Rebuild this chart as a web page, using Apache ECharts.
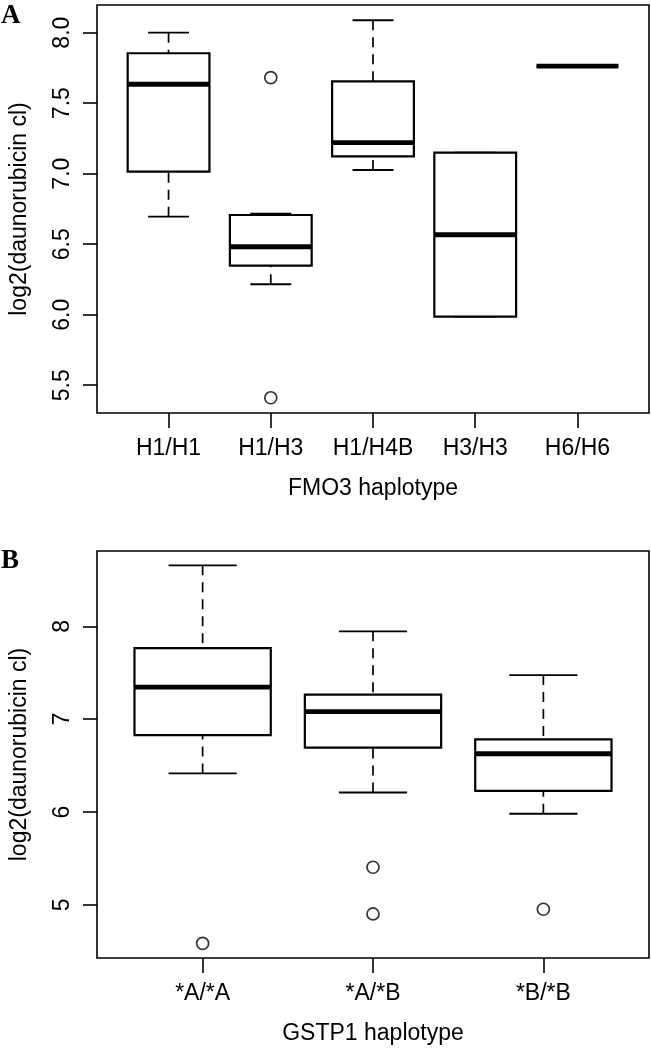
<!DOCTYPE html>
<html>
<head>
<meta charset="utf-8">
<script src="https://cdn.jsdelivr.net/npm/echarts@6/dist/echarts.min.js"></script>
<style>
  html, body { margin: 0; padding: 0; background: #ffffff; }
  #chart { width: 651px; height: 1050px; }
</style>
</head>
<body>
<div id="chart"></div>
<script>
// ---------- Panel A: FMO3 haplotype ----------
const catsA   = ['H1/H1', 'H1/H3', 'H1/H4B', 'H3/H3', 'H6/H6'];
const lowA    = [6.695, 6.216, 7.026, 5.986, 7.762];
const q1A     = [7.014, 6.348, 7.123, 5.986, 7.762];
const medA    = [7.634, 6.482, 7.220, 6.567, 7.762];
const q3A     = [7.854, 6.707, 7.655, 7.149, 7.762];
const highA   = [8.000, 6.716, 8.088, 7.149, 7.762];
const outCatA = [1, 1];
const outValA = [7.681, 5.411];
const ticksA  = [5.5, 6.0, 6.5, 7.0, 7.5, 8.0];

// ---------- Panel B: GSTP1 haplotype ----------
const catsB   = ['*A/*A', '*A/*B', '*B/*B'];
const lowB    = [6.416, 6.211, 5.982];
const q1B     = [6.829, 6.693, 6.229];
const medB    = [7.346, 7.081, 6.628];
const q3B     = [7.766, 7.264, 6.782];
const highB   = [8.657, 7.946, 7.475];
const outCatB = [0, 1, 1, 2];
const outValB = [4.586, 5.406, 4.903, 4.954];
const ticksB  = [5, 6, 7, 8];

const FONT = "'Liberation Sans', Arial, Helvetica, sans-serif";
const FS = 23;

function boxData(cats, lo, q1, md, q3, hi) {
  return cats.map((c, i) => [i + 1, lo[i], q1[i], md[i], q3[i], hi[i]]);
}
function outData(cat, val) {
  return cat.map((c, i) => [c + 1, val[i]]);
}

function renderBox(params, api) {
  const x = api.value(0);
  const pLo = api.coord([x, api.value(1)]);
  const pQ1 = api.coord([x, api.value(2)]);
  const pMd = api.coord([x, api.value(3)]);
  const pQ3 = api.coord([x, api.value(4)]);
  const pHi = api.coord([x, api.value(5)]);
  const halfBox = api.size([0.4, 0])[0];
  const halfCap = api.size([0.2, 0])[0];
  const cx = pMd[0];
  const dashed = { stroke: '#000', lineWidth: 1.7, lineDash: [10, 7], fill: null };
  const solid = { stroke: '#000', lineWidth: 1.8, fill: null };
  return {
    type: 'group',
    children: [
      { type: 'line', shape: { x1: cx, y1: pHi[1], x2: cx, y2: pQ3[1] }, style: dashed },
      { type: 'line', shape: { x1: cx, y1: pLo[1], x2: cx, y2: pQ1[1] }, style: dashed },
      { type: 'line', shape: { x1: cx - halfCap, y1: pHi[1], x2: cx + halfCap, y2: pHi[1] }, style: solid },
      { type: 'line', shape: { x1: cx - halfCap, y1: pLo[1], x2: cx + halfCap, y2: pLo[1] }, style: solid },
      { type: 'rect', shape: { x: cx - halfBox, y: pQ3[1], width: 2 * halfBox, height: pQ1[1] - pQ3[1] },
        style: { stroke: '#000', lineWidth: 2.2, fill: '#fff' } },
      { type: 'line', shape: { x1: cx - halfBox, y1: pMd[1], x2: cx + halfBox, y2: pMd[1] },
        style: { stroke: '#000', lineWidth: 4.8, fill: null } }
    ]
  };
}

function xAxisDef(gridIndex, cats, min, max, name) {
  const vals = cats.map((c, i) => i + 1);
  return {
    type: 'value', gridIndex, min, max,
    name, nameLocation: 'middle', nameGap: 64,
    nameTextStyle: { fontFamily: FONT, fontSize: FS, color: '#000' },
    axisLine: { show: false },
    splitLine: { show: false },
    axisTick: { show: true, inside: false, length: 15, customValues: vals, lineStyle: { color: '#000', width: 1.6 } },
    axisLabel: {
      show: true, customValues: vals, margin: 24,
      fontFamily: FONT, fontSize: FS, color: '#000',
      formatter: v => cats[Math.round(v) - 1] || ''
    }
  };
}

function yAxisDef(gridIndex, ticks, min, max, digits) {
  return {
    type: 'value', gridIndex, min, max,
    name: 'log2(daunorubicin cl)', nameLocation: 'middle', nameGap: 66, nameRotate: 90,
    nameTextStyle: { fontFamily: FONT, fontSize: FS, color: '#000' },
    axisLine: { show: false },
    splitLine: { show: false },
    axisTick: { show: true, inside: false, length: 14, customValues: ticks, lineStyle: { color: '#000', width: 1.6 } },
    axisLabel: {
      show: true, customValues: ticks, margin: 23, rotate: 90,
      fontFamily: FONT, fontSize: FS, color: '#000',
      formatter: v => Number(v).toFixed(digits)
    }
  };
}

const chart = echarts.init(document.getElementById('chart'), null, { renderer: 'canvas' });

chart.setOption({
  backgroundColor: '#ffffff',
  animation: false,
  grid: [
    { left: 90, top: 5, width: 559, height: 408, show: true, borderColor: '#000', borderWidth: 1.6, backgroundColor: 'transparent', containLabel: false },
    { left: 90, top: 551, width: 559, height: 407, show: true, borderColor: '#000', borderWidth: 1.6, backgroundColor: 'transparent', containLabel: false }
  ],
  xAxis: [
    xAxisDef(0, catsA, 0.3, 5.7, 'FMO3 haplotype'),
    xAxisDef(1, catsB, 0.38, 3.62, 'GSTP1 haplotype')
  ],
  yAxis: [
    yAxisDef(0, ticksA, 5.303, 8.196, 1),
    yAxisDef(1, ticksB, 4.429, 8.811, 0)
  ],
  graphic: [
    { type: 'text', left: 1, top: 3, style: { text: 'A', font: "bold 27px 'Liberation Serif', 'Times New Roman', serif", fill: '#000' } },
    { type: 'text', left: 1, top: 548, style: { text: 'B', font: "bold 27px 'Liberation Serif', 'Times New Roman', serif", fill: '#000' } }
  ],
  series: [
    {
      type: 'custom', xAxisIndex: 0, yAxisIndex: 0,
      renderItem: renderBox,
      encode: { x: 0, y: [1, 2, 3, 4, 5] },
      data: boxData(catsA, lowA, q1A, medA, q3A, highA),
      clip: false
    },
    {
      type: 'scatter', xAxisIndex: 0, yAxisIndex: 0,
      symbol: 'circle', symbolSize: 12,
      itemStyle: { color: '#fff', borderColor: '#000', borderWidth: 1.7 },
      data: outData(outCatA, outValA)
    },
    {
      type: 'custom', xAxisIndex: 1, yAxisIndex: 1,
      renderItem: renderBox,
      encode: { x: 0, y: [1, 2, 3, 4, 5] },
      data: boxData(catsB, lowB, q1B, medB, q3B, highB),
      clip: false
    },
    {
      type: 'scatter', xAxisIndex: 1, yAxisIndex: 1,
      symbol: 'circle', symbolSize: 12,
      itemStyle: { color: '#fff', borderColor: '#000', borderWidth: 1.7 },
      data: outData(outCatB, outValB)
    }
  ]
});
</script>
</body>
</html>
